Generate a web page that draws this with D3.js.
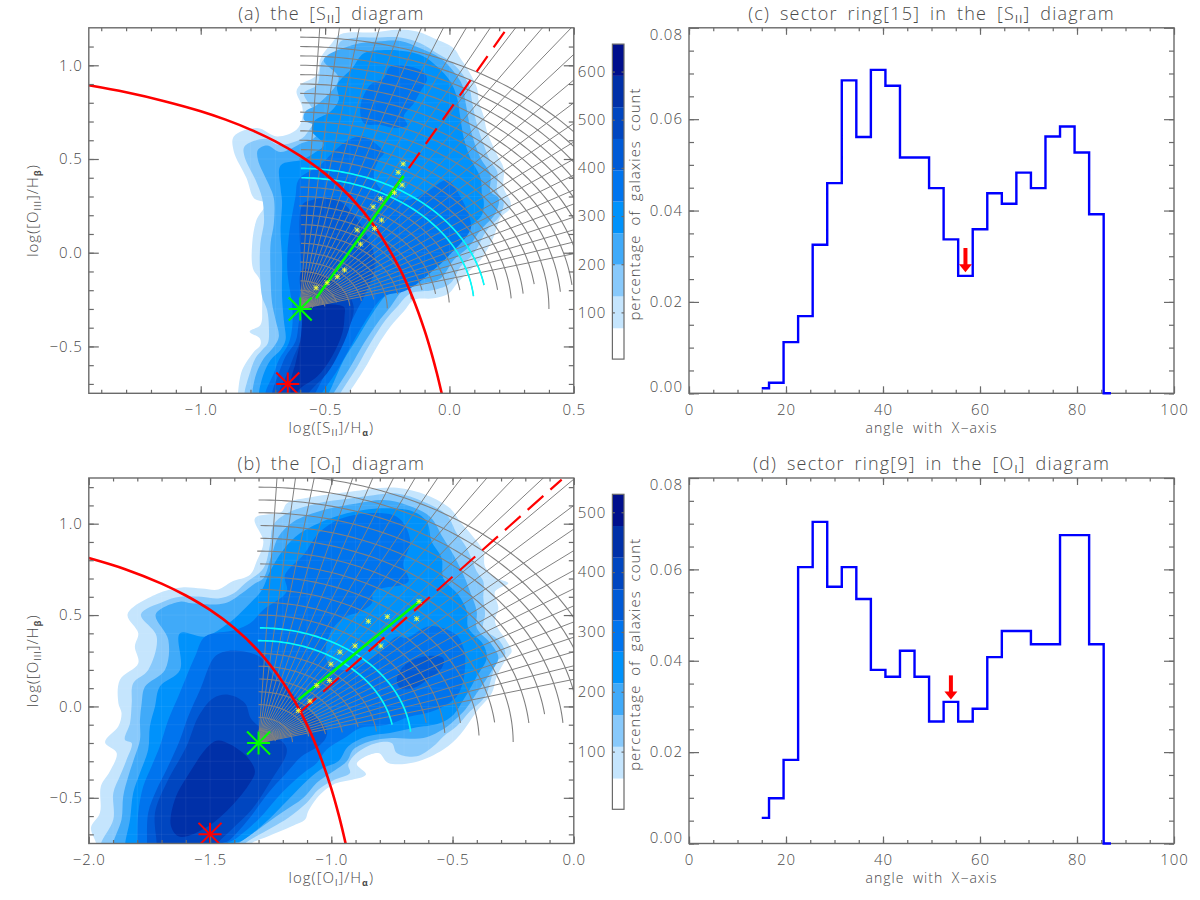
<!DOCTYPE html>
<html>
<head>
<meta charset="utf-8">
<script src="https://cdn.jsdelivr.net/npm/d3@7"></script>
<style>
body { margin: 0; background: #fff; }
text { font-family: "Open Sans", "Liberation Sans", sans-serif; font-weight: 300; fill: #4a4a4a; }
</style>
</head>
<body>
<div id="chart"></div>
<script>
// histogram bins (c) and (d)
var angles = [15, 18, 21, 24, 27, 30, 33, 36, 39, 42, 45, 48, 51, 54, 57, 60, 63, 66, 69, 72, 75, 78, 81, 84, 87];
var histC = [0.0011, 0.0023, 0.0112, 0.0169, 0.0325, 0.046, 0.0685, 0.0561, 0.0708, 0.0673, 0.0516, 0.0516, 0.0449, 0.0337, 0.0257, 0.0359, 0.0438, 0.0415, 0.0483, 0.0449, 0.0562, 0.0584, 0.0527, 0.0392, 0];
var histD = [0.0056, 0.0099, 0.0183, 0.0605, 0.0704, 0.0562, 0.0605, 0.0535, 0.038, 0.0365, 0.0422, 0.0365, 0.0267, 0.031, 0.0267, 0.0295, 0.0408, 0.0465, 0.0465, 0.0436, 0.0436, 0.0675, 0.0675, 0.0436, 0];
var arrowC = [57, 0.0318, 0.0265];
var arrowD = [54, 0.0368, 0.0315];

// density levels, shared by the contours and the colour bars
var levelColors = ["#ffffff", "#c5e5fd", "#88c9fb", "#40aaf9", "#0092fb", "#0074ee", "#005ad6", "#0046c0", "#0030a8", "#000f8c"];
var levelsA = [3, 67, 133, 199, 264, 330, 395, 460, 526, 591, 657];
var levelsB = [3.6, 55, 108, 161, 214, 267, 319, 371, 424, 477, 530];
var barTicksA = [100, 200, 300, 400, 500, 600];
var barTicksB = [100, 200, 300, 400, 500];

// contour outlines of the [SII] panel, lowest level first
var contourA1 = [[-0.85,-0.8],[-0.85,-0.75],[-0.833,-0.625],[-0.786,-0.528],[-0.76,-0.492],[-0.762,-0.457],[-0.803,-0.421],[-0.76,-0.386],[-0.753,-0.306],[-0.762,-0.146],[-0.79,-0.084],[-0.793,0.05],[-0.776,0.174],[-0.74,0.263],[-0.786,0.291],[-0.816,0.398],[-0.867,0.54],[-0.867,0.62],[-0.773,0.665],[-0.693,0.62],[-0.615,0.656],[-0.592,0.718],[-0.592,0.78],[-0.615,0.86],[-0.599,0.896],[-0.532,0.949],[-0.518,1.038],[-0.478,1.109],[-0.438,1.166],[-0.297,1.176],[-0.21,1.189],[-0.13,1.18],[-0.063,1.144],[0.017,1.091],[0.044,1.038],[0.071,0.984],[0.111,0.878],[0.118,0.807],[0.138,0.727],[0.151,0.647],[0.192,0.522],[0.218,0.451],[0.218,0.345],[0.245,0.274],[0.245,0.238],[0.205,0.185],[0.178,0.085],[0.125,-0.039],[0.084,-0.092],[0.031,-0.163],[-0.003,-0.217],[-0.063,-0.243],[-0.143,-0.252],[-0.184,-0.314],[-0.237,-0.394],[-0.291,-0.501],[-0.344,-0.625],[-0.405,-0.75],[-0.43,-0.8]];
var contourA2 = [[-0.824,-0.8],[-0.824,-0.748],[-0.807,-0.661],[-0.78,-0.563],[-0.753,-0.519],[-0.73,-0.483],[-0.726,-0.394],[-0.733,-0.306],[-0.753,-0.235],[-0.762,-0.092],[-0.76,0.05],[-0.746,0.156],[-0.746,0.203],[-0.753,0.291],[-0.78,0.389],[-0.824,0.514],[-0.824,0.567],[-0.74,0.608],[-0.686,0.576],[-0.592,0.611],[-0.559,0.665],[-0.532,0.718],[-0.552,0.771],[-0.585,0.851],[-0.532,0.896],[-0.512,1.02],[-0.458,1.073],[-0.438,1.127],[-0.371,1.148],[-0.297,1.148],[-0.197,1.148],[-0.117,1.118],[-0.05,1.064],[0.004,1.02],[0.044,0.967],[0.078,0.896],[0.091,0.807],[0.111,0.682],[0.138,0.576],[0.165,0.487],[0.192,0.434],[0.192,0.327],[0.218,0.274],[0.205,0.203],[0.151,0.121],[0.098,-0.004],[0.044,-0.075],[0.004,-0.163],[-0.063,-0.199],[-0.157,-0.217],[-0.21,-0.288],[-0.257,-0.359],[-0.318,-0.483],[-0.371,-0.608],[-0.438,-0.748],[-0.46,-0.8]];
var contourA3 = [[-0.793,-0.8],[-0.793,-0.748],[-0.776,-0.643],[-0.746,-0.563],[-0.706,-0.501],[-0.686,-0.448],[-0.699,-0.359],[-0.713,-0.27],[-0.719,-0.128],[-0.719,0.05],[-0.706,0.156],[-0.706,0.291],[-0.726,0.362],[-0.77,0.496],[-0.77,0.549],[-0.733,0.572],[-0.679,0.537],[-0.592,0.585],[-0.545,0.611],[-0.518,0.665],[-0.585,0.709],[-0.579,0.753],[-0.532,0.789],[-0.445,0.931],[-0.505,1.029],[-0.385,1.109],[-0.291,1.127],[-0.197,1.13],[-0.117,1.091],[-0.036,1.038],[0.017,0.967],[0.051,0.896],[0.064,0.807],[0.091,0.629],[0.125,0.505],[0.165,0.416],[0.165,0.327],[0.198,0.291],[0.185,0.211],[0.125,0.121],[0.078,0.032],[0.017,-0.039],[-0.036,-0.137],[-0.103,-0.163],[-0.184,-0.199],[-0.237,-0.288],[-0.291,-0.377],[-0.344,-0.483],[-0.398,-0.608],[-0.465,-0.748],[-0.49,-0.8]];
var contourA4 = [[-0.766,-0.8],[-0.766,-0.748],[-0.746,-0.643],[-0.719,-0.572],[-0.679,-0.519],[-0.659,-0.466],[-0.666,-0.359],[-0.673,-0.235],[-0.673,-0.039],[-0.679,0.121],[-0.673,0.274],[-0.679,0.345],[-0.679,0.466],[-0.592,0.496],[-0.545,0.531],[-0.505,0.576],[-0.552,0.647],[-0.545,0.7],[-0.478,0.753],[-0.445,0.816],[-0.451,0.896],[-0.391,0.984],[-0.344,1.064],[-0.251,1.082],[-0.17,1.073],[-0.103,1.047],[-0.05,0.993],[0.004,0.913],[0.031,0.824],[0.044,0.718],[0.058,0.611],[0.084,0.505],[0.125,0.398],[0.131,0.309],[0.138,0.274],[0.131,0.203],[0.084,0.139],[0.044,0.068],[0.004,-0.004],[-0.05,-0.075],[-0.117,-0.119],[-0.197,-0.155],[-0.251,-0.217],[-0.318,-0.341],[-0.371,-0.457],[-0.425,-0.572],[-0.485,-0.748],[-0.51,-0.8]];
var contourA5 = [[-0.606,0.391],[-0.518,0.469],[-0.458,0.549],[-0.405,0.602],[-0.344,0.62],[-0.291,0.576],[-0.264,0.531],[-0.284,0.496],[-0.304,0.405],[-0.264,0.325],[-0.17,0.281],[-0.09,0.325],[-0.009,0.387],[0.044,0.299],[0.084,0.174],[0.084,0.121],[-0.036,-0.057],[-0.17,-0.199],[-0.264,-0.235],[-0.344,-0.377],[-0.405,-0.519],[-0.458,-0.643],[-0.512,-0.748],[-0.53,-0.8],[-0.74,-0.8],[-0.74,-0.748],[-0.706,-0.643],[-0.686,-0.572],[-0.646,-0.483],[-0.632,-0.394],[-0.632,-0.288],[-0.652,-0.092],[-0.646,0.085],[-0.619,0.299]];
var contourA5b = [[-0.237,0.993],[-0.117,0.975],[-0.09,0.931],[-0.117,0.86],[-0.143,0.798],[-0.184,0.727],[-0.17,0.682],[-0.21,0.665],[-0.277,0.682],[-0.344,0.691],[-0.358,0.78],[-0.318,0.896],[-0.264,0.931]];
var contourA6 = [[-0.592,0.254],[-0.552,0.281],[-0.465,0.29],[-0.398,0.227],[-0.344,0.121],[-0.297,-0.057],[-0.331,-0.199],[-0.378,-0.323],[-0.431,-0.466],[-0.485,-0.608],[-0.539,-0.748],[-0.56,-0.8],[-0.713,-0.8],[-0.713,-0.748],[-0.686,-0.643],[-0.659,-0.554],[-0.619,-0.474],[-0.606,-0.377],[-0.592,-0.235]];
var contourA7 = [[-0.592,-0.092],[-0.492,-0.128],[-0.411,-0.217],[-0.385,-0.288],[-0.405,-0.412],[-0.445,-0.537],[-0.492,-0.643],[-0.565,-0.748],[-0.58,-0.8],[-0.686,-0.8],[-0.686,-0.748],[-0.652,-0.643],[-0.626,-0.554],[-0.599,-0.466],[-0.592,-0.306]];
var contourA8 = [[-0.592,-0.299],[-0.425,-0.288],[-0.422,-0.341],[-0.431,-0.43],[-0.472,-0.554],[-0.532,-0.661],[-0.599,-0.723],[-0.632,-0.77],[-0.64,-0.7],[-0.619,-0.59],[-0.599,-0.466],[-0.592,-0.359]];

// contour outlines of the [OI] panel
var contourB1 = [[-1.97,-0.8],[-1.97,-0.75],[-1.991,-0.664],[-1.954,-0.582],[-1.95,-0.436],[-1.913,-0.355],[-1.885,-0.255],[-1.933,-0.196],[-1.878,-0.109],[-1.865,-0.036],[-1.878,0.018],[-1.872,0.145],[-1.796,0.236],[-1.81,0.327],[-1.796,0.4],[-1.84,0.504],[-1.72,0.615],[-1.617,0.651],[-1.535,0.645],[-1.466,0.64],[-1.411,0.682],[-1.335,0.72],[-1.308,0.793],[-1.28,0.902],[-1.315,1.029],[-1.205,1.065],[-1.184,1.111],[-1.074,1.147],[-0.923,1.175],[-0.84,1.189],[-0.73,1.196],[-0.606,1.156],[-0.51,1.084],[-0.469,1.011],[-0.421,0.938],[-0.373,0.847],[-0.366,0.765],[-0.318,0.702],[-0.27,0.675],[-0.325,0.629],[-0.311,0.538],[-0.325,0.465],[-0.276,0.356],[-0.256,0.302],[-0.276,0.265],[-0.318,0.164],[-0.338,0.073],[-0.4,-0.027],[-0.469,-0.155],[-0.538,-0.236],[-0.655,-0.305],[-0.765,-0.309],[-0.806,-0.255],[-0.895,-0.313],[-0.857,-0.373],[-0.991,-0.427],[-1.046,-0.482],[-1.095,-0.573],[-1.108,-0.618],[-1.163,-0.655],[-1.26,-0.71],[-1.33,-0.75],[-1.36,-0.8]];
var contourB2 = [[-1.95,-0.8],[-1.95,-0.75],[-1.899,-0.618],[-1.899,-0.473],[-1.872,-0.382],[-1.844,-0.291],[-1.823,-0.2],[-1.851,-0.182],[-1.83,-0.091],[-1.823,0.018],[-1.817,0.127],[-1.755,0.2],[-1.72,0.382],[-1.785,0.504],[-1.693,0.573],[-1.624,0.6],[-1.535,0.6],[-1.466,0.591],[-1.404,0.618],[-1.356,0.673],[-1.28,0.756],[-1.253,0.884],[-1.239,0.993],[-1.184,1.056],[-1.06,1.111],[-0.923,1.138],[-0.826,1.156],[-0.73,1.165],[-0.62,1.12],[-0.524,1.047],[-0.483,0.947],[-0.441,0.865],[-0.4,0.738],[-0.373,0.684],[-0.373,0.593],[-0.366,0.502],[-0.373,0.429],[-0.304,0.356],[-0.283,0.284],[-0.318,0.247],[-0.338,0.164],[-0.366,0.055],[-0.428,-0.027],[-0.483,-0.109],[-0.538,-0.164],[-0.579,-0.218],[-0.648,-0.273],[-0.73,-0.255],[-0.751,-0.2],[-0.813,-0.2],[-0.895,-0.255],[-0.93,-0.318],[-0.923,-0.364],[-0.985,-0.4],[-1.053,-0.455],[-1.101,-0.527],[-1.177,-0.609],[-1.246,-0.664],[-1.356,-0.75],[-1.39,-0.8]];
var contourB3 = [[-1.9,-0.8],[-1.9,-0.75],[-1.865,-0.618],[-1.858,-0.491],[-1.837,-0.382],[-1.81,-0.273],[-1.789,-0.182],[-1.789,-0.073],[-1.782,0.018],[-1.768,0.109],[-1.686,0.2],[-1.672,0.364],[-1.724,0.504],[-1.624,0.573],[-1.576,0.564],[-1.439,0.564],[-1.37,0.618],[-1.315,0.673],[-1.28,0.702],[-1.246,0.829],[-1.218,0.929],[-1.156,1.011],[-1.033,1.075],[-0.895,1.111],[-0.785,1.129],[-0.689,1.102],[-0.593,1.038],[-0.538,0.92],[-0.496,0.829],[-0.455,0.72],[-0.428,0.629],[-0.4,0.52],[-0.4,0.429],[-0.338,0.338],[-0.311,0.265],[-0.345,0.182],[-0.4,0.073],[-0.448,-0.018],[-0.49,-0.073],[-0.531,-0.118],[-0.62,-0.173],[-0.751,-0.173],[-0.84,-0.191],[-0.909,-0.236],[-0.936,-0.3],[-1.012,-0.373],[-1.06,-0.418],[-1.115,-0.5],[-1.205,-0.582],[-1.301,-0.673],[-1.383,-0.75],[-1.42,-0.8]];
var contourB4 = [[-1.85,-0.8],[-1.85,-0.75],[-1.83,-0.618],[-1.817,-0.473],[-1.789,-0.364],[-1.755,-0.236],[-1.748,-0.109],[-1.727,0],[-1.707,0.109],[-1.624,0.2],[-1.624,0.4],[-1.521,0.382],[-1.425,0.455],[-1.377,0.509],[-1.342,0.555],[-1.287,0.636],[-1.253,0.738],[-1.198,0.856],[-1.129,0.947],[-1.005,1.029],[-0.868,1.075],[-0.758,1.084],[-0.661,1.065],[-0.606,1.011],[-0.586,0.902],[-0.545,0.811],[-0.538,0.702],[-0.476,0.611],[-0.441,0.52],[-0.435,0.429],[-0.373,0.338],[-0.359,0.265],[-0.4,0.164],[-0.455,0.036],[-0.496,-0.045],[-0.551,-0.091],[-0.661,-0.118],[-0.758,-0.145],[-0.854,-0.164],[-0.93,-0.218],[-0.971,-0.3],[-1.033,-0.336],[-1.095,-0.4],[-1.177,-0.509],[-1.273,-0.636],[-1.37,-0.736],[-1.411,-0.75],[-1.44,-0.8]];
var contourB5 = [[-1.8,-0.8],[-1.8,-0.75],[-1.796,-0.582],[-1.775,-0.436],[-1.741,-0.327],[-1.707,-0.218],[-1.672,-0.073],[-1.631,0.055],[-1.603,0.145],[-1.562,0.273],[-1.521,0.382],[-1.397,0.418],[-1.335,0.455],[-1.28,0.529],[-1.184,0.629],[-1.191,0.72],[-1.115,0.829],[-1.046,0.956],[-0.936,1.038],[-0.73,1.038],[-0.675,0.911],[-0.703,0.775],[-0.682,0.684],[-0.826,0.629],[-0.833,0.565],[-0.881,0.52],[-0.95,0.484],[-1.005,0.4],[-1.019,0.255],[-0.95,0.2],[-0.826,0.273],[-0.73,0.382],[-0.689,0.375],[-0.593,0.44],[-0.483,0.391],[-0.455,0.32],[-0.448,0.273],[-0.455,0.145],[-0.483,0.055],[-0.538,0],[-0.606,-0.036],[-0.675,-0.055],[-0.771,-0.1],[-0.881,-0.118],[-0.936,-0.164],[-1.019,-0.236],[-1.06,-0.309],[-1.115,-0.364],[-1.205,-0.473],[-1.301,-0.618],[-1.397,-0.727],[-1.43,-0.75],[-1.45,-0.8]];
var contourB6 = [[-1.76,-0.8],[-1.76,-0.75],[-1.755,-0.582],[-1.72,-0.455],[-1.679,-0.345],[-1.624,-0.182],[-1.59,-0.055],[-1.541,0.091],[-1.48,0.273],[-1.425,0.304],[-1.328,0.291],[-1.287,0.264],[-1.246,0.182],[-1.163,0.073],[-1.081,-0.036],[-1.019,-0.127],[-1.023,-0.173],[-1.053,-0.218],[-1.122,-0.273],[-1.191,-0.373],[-1.26,-0.473],[-1.342,-0.618],[-1.425,-0.736],[-1.452,-0.75],[-1.47,-0.8]];
var contourB6b = [[-0.73,0.145],[-0.703,0.218],[-0.62,0.273],[-0.538,0.264],[-0.545,0.209],[-0.606,0.145],[-0.661,0.1],[-0.716,0.1]];
var contourB7 = [[-1.72,-0.8],[-1.72,-0.75],[-1.727,-0.582],[-1.679,-0.418],[-1.597,-0.218],[-1.548,-0.055],[-1.487,0.045],[-1.425,0.064],[-1.356,0.018],[-1.328,-0.073],[-1.191,-0.209],[-1.184,-0.255],[-1.246,-0.4],[-1.328,-0.564],[-1.411,-0.673],[-1.47,-0.75],[-1.49,-0.8]];
var contourB8 = [[-1.466,-0.187],[-1.356,-0.264],[-1.315,-0.355],[-1.335,-0.418],[-1.411,-0.545],[-1.507,-0.655],[-1.624,-0.713],[-1.661,-0.655],[-1.645,-0.509],[-1.576,-0.345],[-1.507,-0.218]];

// sector grid: centres, rays, rings and where each ring stops (degrees)
var centerA = [-0.6, -0.3];
var centerB = [-1.3, -0.2];
var rayAngles = [15, 18, 21, 24, 27, 30, 33, 36, 39, 42, 45, 48, 51, 54, 57, 60, 63, 66, 69, 72, 75, 78, 81, 84, 87];
var ringsA = [0.05, 0.1, 0.15, 0.2, 0.25, 0.3, 0.35, 0.4, 0.45, 0.5, 0.55, 0.6, 0.65, 0.7, 0.75, 0.8, 0.85, 0.9, 0.95, 1, 1.05, 1.1, 1.15, 1.2, 1.25, 1.3, 1.35, 1.4, 1.45];
var ringEndsA = [8, 8, 13.5, 4.7, 10, 9.9, 0.5, 11.5, 6.5, 11.6, 8.4, 3.3, 8.9, 5.6, 9.8, 7.3, 3.8, 5.2, 8, 0, 5, 6.7, 5, 5, 5, 5, 5, 5, 5];
var ringsB = [0.07, 0.14, 0.21, 0.28, 0.35, 0.42, 0.49, 0.56, 0.63, 0.7, 0.77, 0.84, 0.91, 0.98, 1.05, 1.12, 1.19, 1.26, 1.33, 1.4, 1.47];
var ringEndsB = [8, 2, 10, 10, 9.6, 12, 7.5, 10.3, 5.5, 9, 4.1, 7.5, 2.6, 6.6, 0.3, 5.6, 7.6, 5, 5, 5, 5];
var cyanA = [0.7, 0.75];
var cyanB = [0.56, 0.63];

// demarcation curves
var curveAX = [-1.45, -1.3, -1.15, -1, -0.9, -0.8, -0.7, -0.6, -0.5, -0.4, -0.3, -0.2, -0.15, -0.1, -0.07, -0.05, -0.03];
var curveAY = [0.893, 0.856, 0.81, 0.755, 0.71, 0.657, 0.594, 0.517, 0.422, 0.3, 0.139, -0.085, -0.232, -0.414, -0.546, -0.646, -0.757];
var curveBX = [-2, -1.85, -1.7, -1.6, -1.5, -1.4, -1.3, -1.2, -1.15, -1.1, -1.05, -1, -0.97, -0.95, -0.94];
var curveBY = [0.812, 0.751, 0.672, 0.607, 0.528, 0.429, 0.302, 0.133, 0.026, -0.101, -0.257, -0.45, -0.591, -0.698, -0.756];
var dashedA = [[-0.315, 0.165], [0.225, 1.185]];
var dashedB = [[-1.127, -0.03], [-0.05, 1.241]];
var greenA = [[-0.536, -0.243], [-0.184, 0.41]];
var greenB = [[-1.136, 0.037], [-0.634, 0.578]];
var redStarA = [-0.65, -0.7];
var redStarB = [-1.5, -0.7];
var minimaA = [[-0.536,-0.187],[-0.492,-0.16],[-0.451,-0.128],[-0.422,-0.092],[-0.358,0.046],[-0.371,0.121],[-0.301,0.13],[-0.273,0.174],[-0.307,0.245],[-0.277,0.288],[-0.221,0.32],[-0.19,0.361],[-0.206,0.429],[-0.186,0.474]];
var minimaB = [[-1.136,-0.023],[-1.088,0.029],[-1.06,0.115],[-1.008,0.142],[-1.002,0.231],[-0.964,0.297],[-0.902,0.331],[-0.847,0.466],[-0.796,0.331],[-0.769,0.491],[-0.648,0.48],[-0.638,0.575]];

var svg = d3.select("#chart").append("svg").attr("width", 1200).attr("height", 900);
svg.append("rect").attr("width", 1200).attr("height", 900).attr("fill", "#fff");

var axisColor = "#6a6a6a";
var gray = "#808080";

function styleAxis(g, size) {
    g.select(".domain").remove();
    g.selectAll("line").attr("stroke", axisColor).attr("stroke-width", 1.2);
    g.selectAll("text").attr("font-size", size).attr("letter-spacing", 1).attr("fill", "#4a4a4a");
}

// IDL style box: ticks pointing inwards on all four sides, labels only bottom and left
function drawFrame(g, x, y, ticks) {
    var w = x.range()[1], h = y.range()[0];
    var sides = [
        [d3.axisBottom, x, ticks.xMajor, 7, `translate(0,${h})`, ticks.xFormat],
        [d3.axisBottom, x, ticks.xMinor, 3.5, `translate(0,${h})`, ""],
        [d3.axisTop, x, ticks.xMajor, 7, "translate(0,0)", ""],
        [d3.axisTop, x, ticks.xMinor, 3.5, "translate(0,0)", ""],
        [d3.axisLeft, y, ticks.yMajor, 10, "translate(0,0)", ticks.yFormat],
        [d3.axisLeft, y, ticks.yMinor, 5, "translate(0,0)", ""],
        [d3.axisRight, y, ticks.yMajor, 10, `translate(${w},0)`, ""],
        [d3.axisRight, y, ticks.yMinor, 5, `translate(${w},0)`, ""]
    ];
    sides.forEach(function (s) {
        var axis = s[0](s[1]).tickValues(s[2]).tickSizeInner(-s[3]).tickSizeOuter(0).tickPadding(s[0] === d3.axisBottom ? 11 : 6).tickFormat(s[5] === "" ? "" : s[5]);
        g.append("g").attr("transform", s[4]).call(axis).call(styleAxis, 15);
    });
    g.append("rect").attr("width", w).attr("height", h)
        .attr("fill", "none").attr("stroke", axisColor).attr("stroke-width", 1.4);
}

// text with subscripts: parts are [string, kind]
function richText(sel, parts, size) {
    var back = 0;
    parts.forEach(function (p) {
        var t = sel.append("tspan").text(p[0]);
        if (p[1]) {
            t.attr("font-size", size * 0.6).attr("dy", 3).attr("font-weight", p[1] === "bold" ? 700 : 400);
            back = -3;
        } else if (back) {
            t.attr("dy", back);
            back = 0;
        }
    });
}

function label(g, x, y, parts, size, rotate, spacing) {
    var t = g.append("text")
        .attr("text-anchor", "middle")
        .attr("font-size", size)
        .attr("letter-spacing", spacing === undefined ? 1 : spacing)
        .attr("word-spacing", 4)
        .attr("transform", `translate(${x},${y})` + (rotate ? "rotate(-90)" : ""));
    richText(t, parts, size);
    return t;
}

// asterisk that fills a square of half-width r
function star(g, px, py, r, color, width) {
    [[r, 0], [0, r], [r, r], [r, -r]].forEach(function (a) {
        g.append("line").attr("x1", px - a[0]).attr("x2", px + a[0]).attr("y1", py - a[1]).attr("y2", py + a[1])
            .attr("stroke", color).attr("stroke-width", width);
    });
}

function drawDiagram(cfg) {
    var w = 485, h = 365.5;
    var x = d3.scaleLinear().domain(cfg.xDomain).range([0, w]);
    var y = d3.scaleLinear().domain(cfg.yDomain).range([h, 0]);
    var g = svg.append("g").attr("transform", `translate(88.8,${cfg.top})`);

    g.append("clipPath").attr("id", cfg.id).append("rect").attr("width", w).attr("height", h);
    var plot = g.append("g").attr("clip-path", `url(#${cfg.id})`);

    var area = d3.line().x(d => x(d[0])).y(d => y(d[1])).curve(d3.curveCatmullRomClosed.alpha(0.5));
    cfg.contours.forEach(function (level, i) {
        level.forEach(function (poly) {
            plot.append("path").attr("d", area(poly)).attr("fill", levelColors[i + 1]);
        });
    });

    // the faint pixel lattice of the density image
    cfg.ticks.xMinor.forEach(function (v) {
        plot.append("line").attr("x1", x(v)).attr("x2", x(v)).attr("y1", 0).attr("y2", h)
            .attr("stroke", "#fff").attr("stroke-opacity", 0.06);
    });
    cfg.ticks.yMinor.forEach(function (v) {
        plot.append("line").attr("y1", y(v)).attr("y2", y(v)).attr("x1", 0).attr("x2", w)
            .attr("stroke", "#fff").attr("stroke-opacity", 0.06);
    });

    var line = d3.line().x(d => x(d[0])).y(d => y(d[1]));
    var cx = cfg.center[0], cy = cfg.center[1];
    function polar(r, a) {
        return [cx + r * Math.cos(a * Math.PI / 180), cy + r * Math.sin(a * Math.PI / 180)];
    }
    function arc(r, end) {
        return line(d3.range(end, 90.5, 1).map(a => polar(r, a)));
    }

    rayAngles.forEach(function (a) {
        plot.append("path").attr("d", line([polar(0, a), polar(2.4, a)]))
            .attr("stroke", gray).attr("stroke-width", 1).attr("fill", "none");
    });
    cfg.rings.forEach(function (r, i) {
        plot.append("path").attr("d", arc(r, cfg.ringEnds[i]))
            .attr("stroke", gray).attr("stroke-width", 1.1).attr("fill", "none");
    });
    cfg.rings.forEach(function (r, i) {
        if (cfg.cyan.includes(r)) {
            plot.append("path").attr("d", arc(r, cfg.ringEnds[i]))
                .attr("stroke", "#00ffff").attr("stroke-width", 1.6).attr("fill", "none");
        }
    });

    plot.append("path")
        .attr("d", d3.line().x(d => x(d)).y((d, i) => y(cfg.curveY[i])).curve(d3.curveCatmullRom)(cfg.curveX))
        .attr("stroke", "#ff0000").attr("stroke-width", 2.6).attr("fill", "none");
    plot.append("path").attr("d", line(cfg.dashed))
        .attr("stroke", "#ff0000").attr("stroke-width", 2.2).attr("fill", "none")
        .attr("stroke-dasharray", cfg.dash).attr("stroke-dashoffset", cfg.dashOffset);
    plot.append("path").attr("d", line(cfg.green))
        .attr("stroke", "#00ff00").attr("stroke-width", 2.6).attr("fill", "none");

    cfg.minima.forEach(function (d) {
        star(plot, x(d[0]), y(d[1]), 2.5, "#ffff33", 0.9);
    });
    star(plot, x(cfg.redStar[0]), y(cfg.redStar[1]), 11.5, "#ff0000", 2);
    star(plot, x(cx), y(cy), 11.5, "#00ff00", 2);

    drawFrame(g, x, y, cfg.ticks);

    label(g, w / 2, -8, cfg.title, 18);
    label(g, w / 2, 405, cfg.xLabel, 15);
    label(g, -51, h / 2, cfg.yLabel, 15, true);

    // colour bar
    var bar = svg.append("g").attr("transform", `translate(612.4,${cfg.top + 16.3})`);
    var c = d3.scaleLinear().domain([cfg.levels[0], cfg.levels[10]]).range([315, 0]);
    d3.range(10).forEach(function (i) {
        bar.append("rect").attr("x", 0).attr("width", 11.6)
            .attr("y", c(cfg.levels[i + 1])).attr("height", c(cfg.levels[i]) - c(cfg.levels[i + 1]))
            .attr("fill", levelColors[i]);
    });
    var barAxis = d3.axisLeft(c).tickValues(cfg.barTicks).tickSizeInner(-2.5).tickSizeOuter(0).tickPadding(6);
    bar.append("g").call(barAxis).call(styleAxis, 15);
    bar.append("g").attr("transform", "translate(11.6,0)")
        .call(d3.axisRight(c).tickValues(cfg.barTicks).tickSizeInner(-2.5).tickSizeOuter(0).tickFormat(""))
        .call(styleAxis, 15);
    bar.append("rect").attr("width", 11.6).attr("height", 315)
        .attr("fill", "none").attr("stroke", axisColor).attr("stroke-width", 1.2);
    label(bar, 27.5, 160, [["percentage of galaxies count"]], 15, true);
}

function drawHistogram(cfg) {
    var w = 485, h = 365.5;
    var x = d3.scaleLinear().domain([0, 100]).range([0, w]);
    var y = d3.scaleLinear().domain([0, 0.08]).range([h, 0]);
    var g = svg.append("g").attr("transform", `translate(689,${cfg.top})`);

    drawFrame(g, x, y, {
        xMajor: [0, 20, 40, 60, 80, 100], xMinor: d3.range(0, 100, 5), xFormat: d3.format("d"),
        yMajor: [0, 0.02, 0.04, 0.06, 0.08], yMinor: d3.range(0, 0.08, 0.005), yFormat: d3.format(".2f")
    });
    // the end labels stay inside the axis range
    g.selectAll("text").filter(function () { return this.textContent === "0.00"; }).attr("dy", "-0.1em");
    g.selectAll("text").filter(function () { return this.textContent === "0.08"; }).attr("dy", "0.75em");

    g.append("path")
        .attr("d", d3.line().x(d => x(d)).y((d, i) => y(cfg.values[i])).curve(d3.curveStep)(angles))
        .attr("stroke", "#0000ff").attr("stroke-width", 2.4).attr("fill", "none");

    var ax = x(cfg.arrow[0]), y0 = y(cfg.arrow[1]), y1 = y(cfg.arrow[2]);
    g.append("line").attr("x1", ax).attr("x2", ax).attr("y1", y0).attr("y2", y1 - 5)
        .attr("stroke", "#ff0000").attr("stroke-width", 4);
    g.append("path").attr("d", `M${ax - 6.5},${y1 - 8}L${ax + 6.5},${y1 - 8}L${ax},${y1}Z`).attr("fill", "#ff0000");

    label(g, w / 2, -8, cfg.title, 18, false, 1.2);
    label(g, w / 2, 405, [["angle with X\u2212axis"]], 14);
}

var sub = "plain";
drawDiagram({
    id: "clipA", top: 27.8,
    xDomain: [-1.45, 0.5], yDomain: [-0.75, 1.2],
    contours: [[contourA1], [contourA2], [contourA3], [contourA4], [contourA5, contourA5b], [contourA6], [contourA7], [contourA8]],
    center: centerA, rings: ringsA, ringEnds: ringEndsA, cyan: cyanA,
    curveX: curveAX, curveY: curveAY, dashed: dashedA, dash: "19 10.5", dashOffset: -6.6,
    green: greenA, redStar: redStarA, minima: minimaA,
    levels: levelsA, barTicks: barTicksA,
    ticks: {
        xMajor: [-1, -0.5, 0, 0.5], xMinor: d3.range(-1.4, 0.5, 0.1), xFormat: d3.format(".1f"),
        yMajor: [-0.5, 0, 0.5, 1], yMinor: d3.range(-0.7, 1.2, 0.1), yFormat: d3.format(".1f")
    },
    title: [["(a) the [S"], ["II", sub], ["] diagram"]],
    xLabel: [["log([S"], ["II", sub], ["]/H"], ["\u03b1", "bold"], [")"]],
    yLabel: [["log([O"], ["III", sub], ["]/H"], ["\u03b2", "bold"], [")"]]
});
drawDiagram({
    id: "clipB", top: 478,
    xDomain: [-2, 0], yDomain: [-0.75, 1.25],
    contours: [[contourB1], [contourB2], [contourB3], [contourB4], [contourB5], [contourB6, contourB6b], [contourB7], [contourB8]],
    center: centerB, rings: ringsB, ringEnds: ringEndsB, cyan: cyanB,
    curveX: curveBX, curveY: curveBY, dashed: dashedB, dash: "21 9.4", dashOffset: 0,
    green: greenB, redStar: redStarB, minima: minimaB,
    levels: levelsB, barTicks: barTicksB,
    ticks: {
        xMajor: [-2, -1.5, -1, -0.5, 0], xMinor: d3.range(-1.9, 0, 0.1), xFormat: d3.format(".1f"),
        yMajor: [-0.5, 0, 0.5, 1], yMinor: d3.range(-0.7, 1.25, 0.1), yFormat: d3.format(".1f")
    },
    title: [["(b) the [O"], ["I", sub], ["] diagram"]],
    xLabel: [["log([O"], ["I", sub], ["]/H"], ["\u03b1", "bold"], [")"]],
    yLabel: [["log([O"], ["III", sub], ["]/H"], ["\u03b2", "bold"], [")"]]
});
drawHistogram({
    top: 27.8, values: histC, arrow: arrowC,
    title: [["(c) sector ring[15] in the [S"], ["II", sub], ["] diagram"]]
});
drawHistogram({
    top: 478, values: histD, arrow: arrowD,
    title: [["(d) sector ring[9] in the [O"], ["I", sub], ["] diagram"]]
});
</script>
</body>
</html>
